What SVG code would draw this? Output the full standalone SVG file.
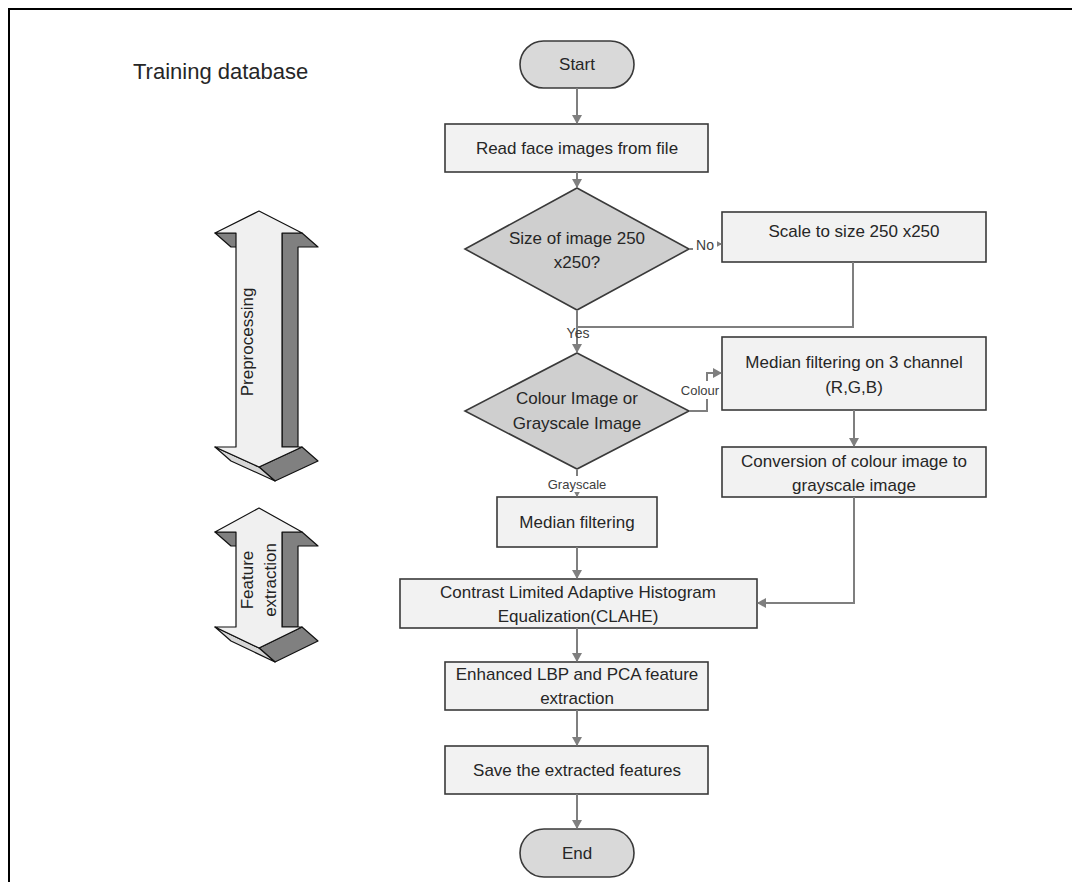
<svg xmlns="http://www.w3.org/2000/svg" width="1072" height="882" viewBox="0 0 1072 882">
<style>
text{font-family:"Liberation Sans",Arial,sans-serif;fill:#262626}
.t{font-size:17px;text-anchor:middle}
.lbl{font-size:14px;text-anchor:middle;fill:#404040}
.box{fill:#f2f2f2;stroke:#3a3a3a;stroke-width:1.6}
.term{fill:#d9d9d9;stroke:#3a3a3a;stroke-width:1.6}
.dia{fill:#cfcfcf;stroke:#3a3a3a;stroke-width:1.6}
.con{fill:none;stroke:#7f7f7f;stroke-width:2}
.arr{marker-end:url(#ah)}
.face{fill:#f0f0f0;stroke:#111;stroke-width:1.2;stroke-linejoin:round}
.dark{fill:#808080;stroke:#111;stroke-width:1.2;stroke-linejoin:round}
.mid{fill:#d6d6d6;stroke:#111;stroke-width:1.2;stroke-linejoin:round}
.side{font-size:17px;text-anchor:middle;fill:#222}
</style>
<defs>
<marker id="ah" markerWidth="10" markerHeight="10" refX="8" refY="5" orient="auto" markerUnits="userSpaceOnUse">
<path d="M0,0 L9,5 L0,10 Z" fill="#7f7f7f"/>
</marker>
</defs>
<rect width="1072" height="882" fill="#fff"/>
<path d="M9,882 V9 H1072" fill="none" stroke="#000" stroke-width="2"/>
<text id="title" x="133" y="79" style="font-size:22px">Training database</text>

<g id="preprocessing-arrow">
<polygon class="dark" points="282,233 302,233 318,247 298,247 298,447 282,447"/>
<polygon class="dark" points="215,233 236,233 252,247 231,247"/>
<polygon class="dark" points="302,447 318,461 275,481 259,467"/>
<polygon class="mid" points="215,447 259,467 275,481 231,461"/>
<polygon class="face" points="259,211 302,233 282,233 282,447 302,447 259,467 215,447 236,447 236,233 215,233"/>
<text class="side" transform="translate(253,342) rotate(-90)">Preprocessing</text>
</g>

<g id="feature-arrow">
<polygon class="dark" points="282,532 302,532 318,546 298,546 298,627 282,627"/>
<polygon class="dark" points="215,532 236,532 252,546 231,546"/>
<polygon class="dark" points="302,627 318,641 275,662 259,648"/>
<polygon class="mid" points="215,627 259,648 275,662 231,641"/>
<polygon class="face" points="259,508 302,532 282,532 282,627 302,627 259,648 215,627 236,627 236,532 215,532"/>
<text class="side" transform="translate(253,580) rotate(-90)">Feature</text>
<text class="side" transform="translate(276,580) rotate(-90)">extraction</text>
</g>

<g id="start">
<rect class="term" x="520" y="41" width="114" height="47" rx="23.5"/>
<text class="t" x="577" y="70">Start</text>
</g>
<g id="read">
<rect class="box" x="445" y="124" width="263" height="48"/>
<text class="t" x="577" y="154">Read face images from file</text>
</g>
<g id="size-check">
<polygon class="dia" points="577,188 689,249 577,310 465,249"/>
<text class="t" x="577" y="244">Size of image 250</text>
<text class="t" x="577" y="268">x250?</text>
</g>
<g id="scale">
<rect class="box" x="722" y="212" width="264" height="50"/>
<text class="t" x="854" y="237">Scale to size 250 x250</text>
</g>
<g id="colour-check">
<polygon class="dia" points="577,353 689,411 577,469 465,411"/>
<text class="t" x="577" y="404">Colour Image or</text>
<text class="t" x="577" y="429">Grayscale Image</text>
</g>
<g id="median3">
<rect class="box" x="722" y="337" width="264" height="73"/>
<text class="t" x="854" y="368">Median filtering on 3 channel</text>
<text class="t" x="854" y="393">(R,G,B)</text>
</g>
<g id="conversion">
<rect class="box" x="722" y="447" width="264" height="50"/>
<text class="t" x="854" y="467">Conversion of colour image to</text>
<text class="t" x="854" y="491">grayscale image</text>
</g>
<g id="median">
<rect class="box" x="497" y="497" width="160" height="50"/>
<text class="t" x="577" y="528">Median filtering</text>
</g>
<g id="clahe">
<rect class="box" x="400" y="579" width="357" height="49"/>
<text class="t" x="578" y="598">Contrast Limited Adaptive Histogram</text>
<text class="t" x="578" y="622">Equalization(CLAHE)</text>
</g>
<g id="enhanced">
<rect class="box" x="445" y="662" width="263" height="48"/>
<text class="t" x="577" y="680">Enhanced LBP and PCA feature</text>
<text class="t" x="577" y="704">extraction</text>
</g>
<g id="save">
<rect class="box" x="445" y="746" width="263" height="48"/>
<text class="t" x="577" y="776">Save the extracted features</text>
</g>
<g id="end">
<rect class="term" x="520" y="829" width="114" height="48" rx="24"/>
<text class="t" x="577" y="859">End</text>
</g>

<g id="connectors">
<path class="con arr" d="M577,88 V123"/>
<path class="con arr" d="M577,172 V187"/>
<path class="con arr" d="M689,249 H705 V244 H721"/>
<path class="con" d="M853,262 V327 H577"/>
<path class="con arr" d="M577,310 V352"/>
<path class="con arr" d="M689,411 H707 V373 H721"/>
<path class="con arr" d="M854,410 V446"/>
<path class="con arr" d="M854,497 V603 H758"/>
<path class="con arr" d="M577,469 V496"/>
<path class="con arr" d="M577,547 V578"/>
<path class="con arr" d="M577,628 V661"/>
<path class="con arr" d="M577,710 V745"/>
<path class="con arr" d="M577,794 V828"/>
<rect x="693" y="238" width="24" height="16" fill="#fff"/>
<text class="lbl" x="705" y="250">No</text>
<text class="lbl" x="578" y="338">Yes</text>
<rect x="680" y="381" width="40" height="18" fill="#fff"/>
<text class="lbl" x="700" y="395" style="font-size:13px">Colour</text>
<rect x="546" y="476" width="62" height="16" fill="#fff"/>
<text class="lbl" x="577" y="489" style="font-size:13px">Grayscale</text>
</g>
</svg>
